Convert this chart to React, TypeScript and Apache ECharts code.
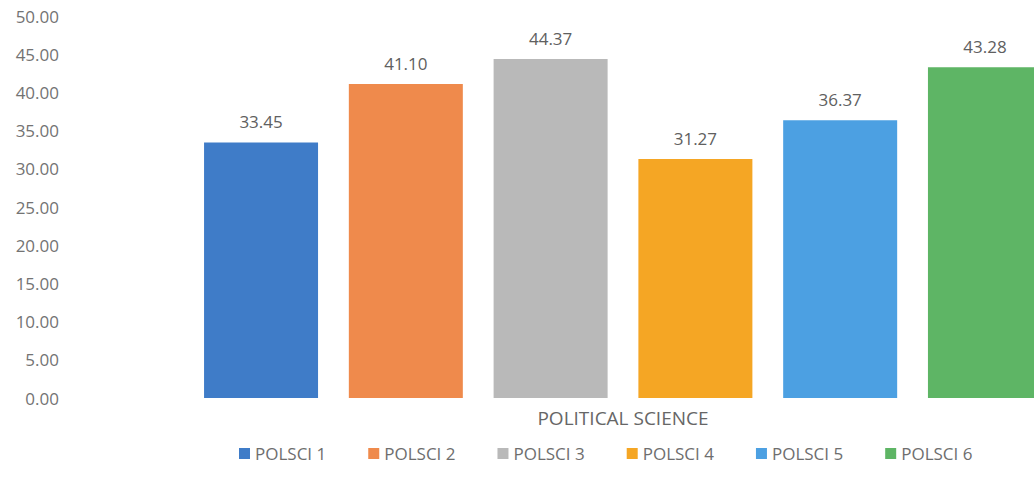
import React, { useEffect, useRef } from "react";
import * as echarts from "echarts";

const categories = ["POLITICAL SCIENCE"];
const seriesNames = ["POLSCI 1", "POLSCI 2", "POLSCI 3", "POLSCI 4", "POLSCI 5", "POLSCI 6"];
const seriesValues = [33.45, 41.1, 44.37, 31.27, 36.37, 43.28];
const seriesColors = ["#3F7CC8", "#EF8A4C", "#B9B9B9", "#F5A624", "#4CA0E2", "#5EB565"];

export default function App() {
  const ref = useRef<HTMLDivElement>(null);
  useEffect(() => {
    if (!ref.current) return;
    const chart = echarts.init(ref.current, undefined, { renderer: "svg" });
    const font = "'Open Sans', sans-serif";
    chart.setOption({
      animation: false,
      backgroundColor: "#ffffff",
      textStyle: { fontFamily: font },
      grid: { left: 65, top: 16, height: 382, width: 1116 },
      legend: {
        top: 440,
        left: 234,
        itemWidth: 11,
        itemHeight: 11,
        itemGap: 42,
        icon: "rect",
        textStyle: { fontSize: 17, color: "#6e6e6e", fontFamily: font },
        data: seriesNames,
      },
      xAxis: {
        type: "category",
        data: categories,
        axisLine: { show: false },
        axisTick: { show: false },
        axisLabel: { fontSize: 19, color: "#666666", margin: 10, fontFamily: font },
      },
      yAxis: {
        type: "value",
        min: 0,
        max: 50,
        interval: 5,
        splitLine: { show: false },
        axisLine: { show: false },
        axisTick: { show: false },
        axisLabel: {
          fontSize: 17,
          color: "#737373",
          margin: 6,
          fontFamily: font,
          formatter: (v: number) => v.toFixed(2),
        },
      },
      series: seriesNames.map((name, i) => ({
        name,
        type: "bar",
        data: [seriesValues[i]],
        barWidth: 114,
        barGap: "27%",
        itemStyle: { color: seriesColors[i] },
        label: {
          show: true,
          position: "top",
          distance: 12,
          fontSize: 17,
          color: "#606060",
          fontFamily: font,
          formatter: (p: any) => Number(p.value).toFixed(2),
        },
      })),
    });
    return () => chart.dispose();
  }, []);
  return (
    <div
      style={{
        position: "fixed",
        left: 0,
        top: 0,
        width: 1034,
        height: 495,
        overflow: "hidden",
        background: "#ffffff",
      }}
    >
      <div ref={ref} style={{ width: 1200, height: 495 }} />
    </div>
  );
}
